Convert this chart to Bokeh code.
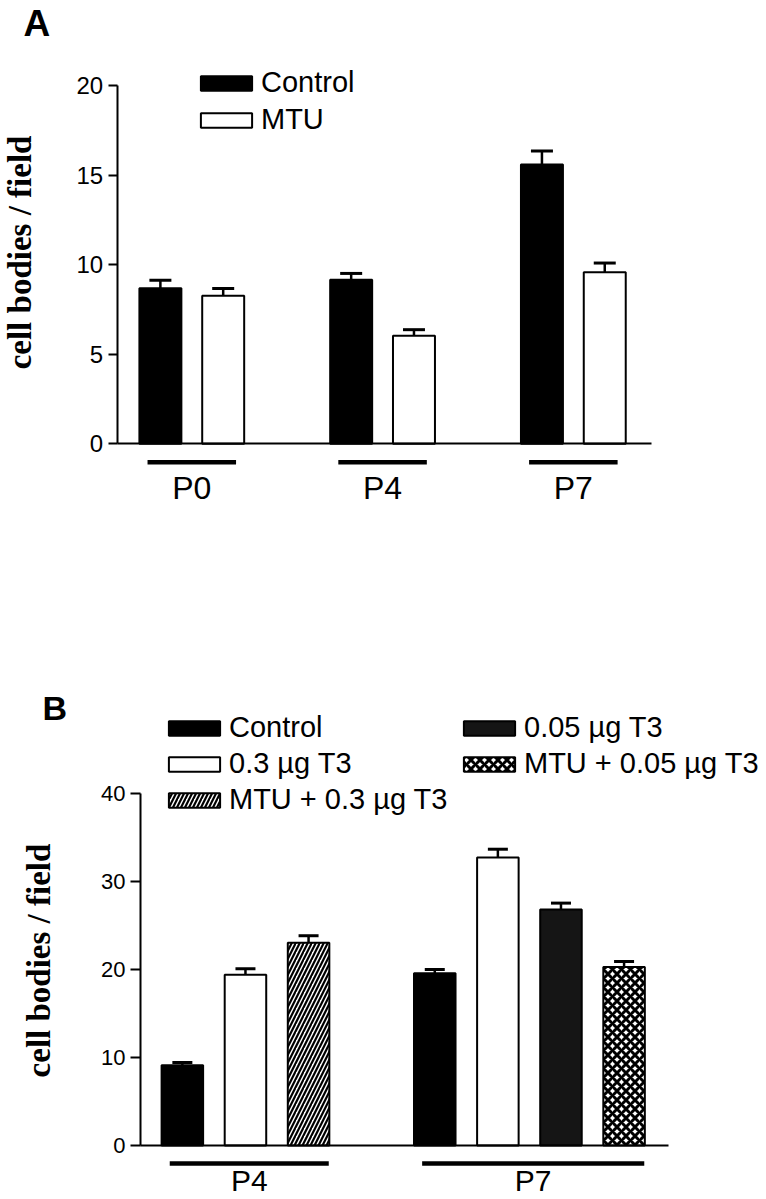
from math import pi
from bokeh.plotting import figure
from bokeh.models import (ColumnDataSource, Range1d, FixedTicker, Whisker, TeeHead,
                          Legend, LegendItem, LinearAxis)
from bokeh.core.properties import value
from bokeh.layouts import column
from bokeh.embed import file_html
from bokeh.resources import INLINE

# ---------------- Panel A data ----------------
a_groups = ["P0", "P4", "P7"]
a_control = [8.68, 9.16, 15.59]
a_control_err = [0.45, 0.35, 0.75]
a_mtu = [8.27, 6.03, 9.57]
a_mtu_err = [0.40, 0.34, 0.52]
a_yticks = [0, 5, 10, 15, 20]

# ---------------- Panel B data ----------------
b_groups = ["P4", "P7"]
b_series = ["Control", "0.3 µg T3", "MTU + 0.3 µg T3", "0.05 µg T3", "MTU + 0.05 µg T3"]
b_control_groups = ["P4", "P7"]
b_control = [9.13, 19.60]
b_control_err = [0.31, 0.42]
b_t3_03_groups = ["P4", "P7"]
b_t3_03 = [19.42, 32.76]
b_t3_03_err = [0.68, 0.94]
b_mtu_t3_03_groups = ["P4"]
b_mtu_t3_03 = [23.06]
b_mtu_t3_03_err = [0.80]
b_t3_005_groups = ["P7"]
b_t3_005 = [26.85]
b_t3_005_err = [0.72]
b_mtu_t3_005_groups = ["P7"]
b_mtu_t3_005 = [20.29]
b_mtu_t3_005_err = [0.64]
b_yticks = [0, 10, 20, 30, 40]

SANS = "Liberation Sans"
SERIF = "Liberation Serif"


def add_axes(p, ticks, y_axis_x, x_bounds, tick_out, font_size):
    ya = LinearAxis(ticker=FixedTicker(ticks=ticks), bounds=(ticks[0], ticks[-1]),
                    fixed_location=y_axis_x, axis_line_width=2, axis_line_color="black",
                    major_tick_line_width=2, major_tick_line_color="black",
                    major_tick_out=tick_out, major_tick_in=0, minor_tick_line_color=None,
                    major_label_text_font=SANS, major_label_text_font_size=font_size,
                    major_label_text_color="black", major_label_standoff=5)
    p.add_layout(ya, "left")
    xa = LinearAxis(ticker=FixedTicker(ticks=[]), bounds=x_bounds, fixed_location=0,
                    axis_line_width=2, axis_line_color="black", major_tick_line_color=None,
                    minor_tick_line_color=None)
    p.add_layout(xa, "below")
    p.grid.visible = False
    p.outline_line_color = None


def make_fig(h, xr, yr):
    return figure(width=760, height=h, output_backend="svg", toolbar_location=None,
                  x_range=Range1d(*xr), y_range=Range1d(*yr),
                  x_axis_location=None, y_axis_location=None,
                  min_border=0, min_border_left=0, min_border_right=0,
                  min_border_top=0, min_border_bottom=0)


leg_style = dict(glyph_width=64, glyph_height=18, label_standoff=3, label_text_font=SANS,
                 label_text_font_size="29px", label_text_color="black", padding=0, margin=0,
                 border_line_color=None, background_fill_alpha=0)

# ================= Panel A =================
pa = make_fig(600, (-1.0027, 2.981), (-8.747, 24.745))
add_axes(pa, a_yticks, -0.391, (-0.391, 2.408), 9, "24px")

a_idx = list(range(len(a_groups)))
a_off = 0.1646
a_w = 0.22
src_ac = ColumnDataSource(dict(x=[i - a_off for i in a_idx], top=a_control,
                               upper=[v + e for v, e in zip(a_control, a_control_err)]))
src_am = ColumnDataSource(dict(x=[i + a_off for i in a_idx], top=a_mtu,
                               upper=[v + e for v, e in zip(a_mtu, a_mtu_err)]))
r_ac = pa.vbar(x="x", top="top", bottom=0, width=a_w, source=src_ac,
               fill_color="black", line_color="black", line_width=2)
r_am = pa.vbar(x="x", top="top", bottom=0, width=a_w, source=src_am,
               fill_color="white", line_color="black", line_width=2)
for s in (src_ac, src_am):
    pa.add_layout(Whisker(base="x", lower="top", upper="upper", source=s, dimension="height",
                          line_width=2.5, line_color="black", lower_head=None,
                          upper_head=TeeHead(size=22, line_width=3, line_color="black")))

a_half = 0.232
pa.segment(x0=[i - a_half for i in a_idx], x1=[i + a_half for i in a_idx],
           y0=[-1.03] * 3, y1=[-1.03] * 3, line_color="black", line_width=4.5)
pa.text(x=a_idx, y=[-1.474] * 3, text=a_groups, text_align="center",
        text_baseline="top", text_font=value(SANS), text_font_size="32px",
        text_color="black")

leg_a = Legend(items=[LegendItem(label="Control", renderers=[r_ac]),
                      LegendItem(label="MTU", renderers=[r_am])],
               location=(194, 464), spacing=4, **leg_style)
pa.add_layout(leg_a)

pa.text(x=[-0.882], y=[24.578], text=["A"], text_font=value(SANS), text_font_style="bold",
        text_font_size="37px", text_baseline="top", text_align="left", text_color="black")
pa.text(x=[-0.898], y=[10.68], text=["cell bodies / field"], angle=pi / 2,
        text_font=value(SERIF), text_font_style="bold", text_font_size="33px",
        text_align="center", text_baseline="middle", text_color="black")

# ================= Panel B =================
pb = make_fig(597, (-2.882, 9.162), (-5.914, 61.99))
add_axes(pb, b_yticks, -0.663, (-0.663, 7.709), 10, "22px")

b_info = {
    "Control": (b_control_groups, b_control, b_control_err),
    "0.3 µg T3": (b_t3_03_groups, b_t3_03, b_t3_03_err),
    "MTU + 0.3 µg T3": (b_mtu_t3_03_groups, b_mtu_t3_03, b_mtu_t3_03_err),
    "0.05 µg T3": (b_t3_005_groups, b_t3_005, b_t3_005_err),
    "MTU + 0.05 µg T3": (b_mtu_t3_005_groups, b_mtu_t3_005, b_mtu_t3_005_err),
}
b_order = ["Control", "0.3 µg T3", "0.05 µg T3", "MTU + 0.3 µg T3", "MTU + 0.05 µg T3"]
b_styles = {
    "Control": dict(fill_color="black"),
    "0.3 µg T3": dict(fill_color="white"),
    "MTU + 0.3 µg T3": dict(fill_color="white", hatch_pattern="/", hatch_color="black",
                            hatch_scale=8, hatch_weight=2.2),
    "0.05 µg T3": dict(fill_color="#151515"),
    "MTU + 0.05 µg T3": dict(fill_color="white", hatch_pattern="x", hatch_color="black",
                             hatch_scale=9, hatch_weight=3),
}

# slot positions: series present in each group side by side, one empty slot between groups
slots = {}
group_span = {}
k = 0
for g in b_groups:
    first = k
    for s in b_order:
        if g in b_info[s][0]:
            slots[(g, s)] = k
            k += 1
    group_span[g] = (first, k - 1)
    k += 1

b_w = 0.658
renderers = {}
for s in b_series:
    gs, vals, errs = b_info[s]
    src = ColumnDataSource(dict(x=[slots[(g, s)] for g in gs], top=vals,
                                upper=[v + e for v, e in zip(vals, errs)]))
    renderers[s] = pb.vbar(x="x", top="top", bottom=0, width=b_w, source=src,
                           line_color="black", line_width=2, **b_styles[s])
    pb.add_layout(Whisker(base="x", lower="top", upper="upper", source=src, dimension="height",
                          line_width=2.5, line_color="black", lower_head=None,
                          upper_head=TeeHead(size=20, line_width=3, line_color="black")))

b_lo, b_hi = 0.2, 0.32
pb.segment(x0=[group_span[g][0] - b_lo for g in b_groups],
           x1=[group_span[g][1] + b_hi for g in b_groups],
           y0=[-2.05] * 2, y1=[-2.05] * 2, line_color="black", line_width=4.5)
pb.text(x=[(group_span[g][0] - b_lo + group_span[g][1] + b_hi) / 2 for g in b_groups],
        y=[-2.104] * 2, text=b_groups, text_align="center", text_baseline="top",
        text_font=value(SANS), text_font_size="30px", text_color="black")

leg_b1 = Legend(items=[LegendItem(label=s, renderers=[renderers[s]])
                       for s in ["Control", "0.3 µg T3", "MTU + 0.3 µg T3"]],
                location=(162, 381), spacing=3, **leg_style)
leg_b2 = Legend(items=[LegendItem(label=s, renderers=[renderers[s]])
                       for s in ["0.05 µg T3", "MTU + 0.05 µg T3"]],
                location=(457, 417), spacing=3, **leg_style)
pb.add_layout(leg_b1)
pb.add_layout(leg_b2)

pb.text(x=[-2.216], y=[51.886], text=["B"], text_font=value(SANS), text_font_style="bold",
        text_font_size="34px", text_baseline="top", text_align="left", text_color="black")
pb.text(x=[-2.264], y=[21.04], text=["cell bodies / field"], angle=pi / 2,
        text_font=value(SERIF), text_font_style="bold", text_font_size="33px",
        text_align="center", text_baseline="middle", text_color="black")

layout = column(pa, pb)
open("out.html", "w").write(file_html(layout, INLINE))
